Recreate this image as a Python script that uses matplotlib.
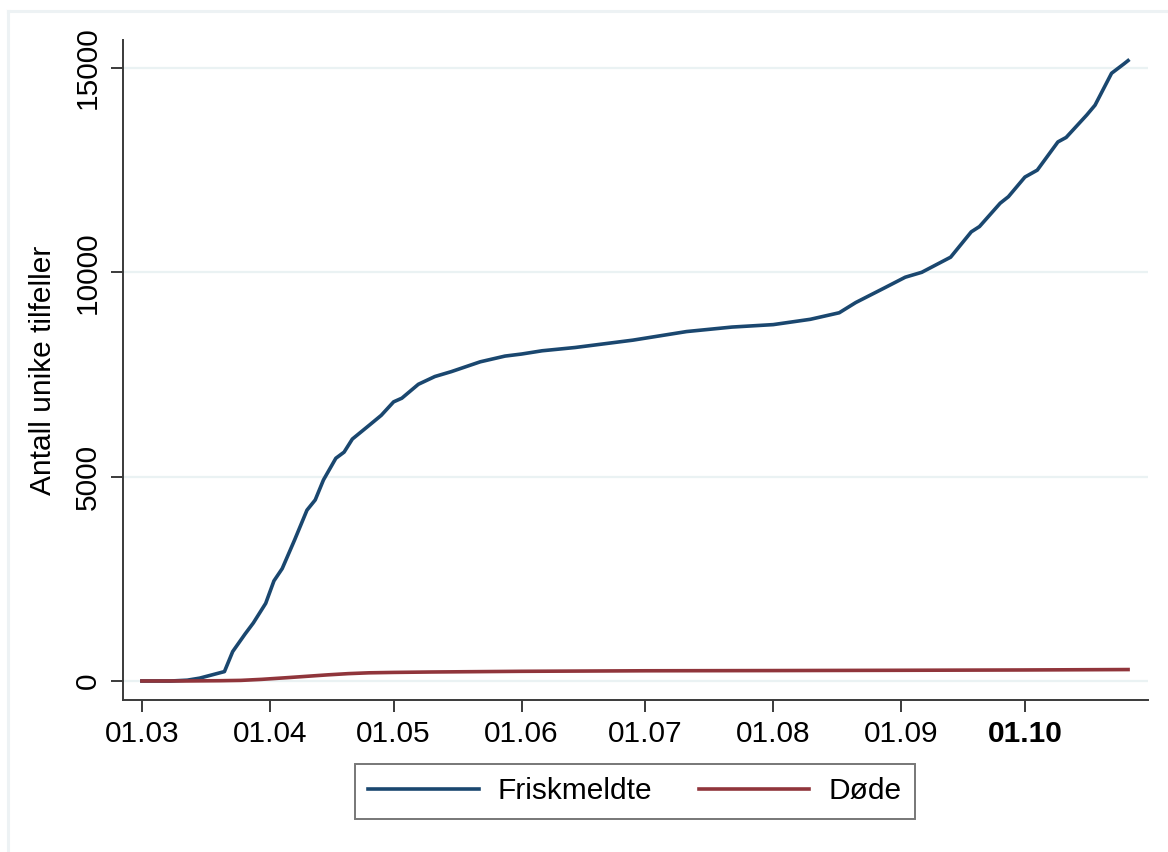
import matplotlib
matplotlib.use("Agg")
import matplotlib.pyplot as plt
import matplotlib.dates as mdates
from matplotlib.lines import Line2D
import pandas as pd

# ---- data ----
friskmeldte_dates = [
    "2020-03-01", "2020-03-08", "2020-03-12", "2020-03-15", "2020-03-18", "2020-03-21",
    "2020-03-23", "2020-03-26", "2020-03-28", "2020-03-31", "2020-04-02", "2020-04-04",
    "2020-04-07", "2020-04-10", "2020-04-12", "2020-04-14", "2020-04-17", "2020-04-19",
    "2020-04-21", "2020-04-25", "2020-04-28", "2020-05-01", "2020-05-03", "2020-05-07",
    "2020-05-11", "2020-05-15", "2020-05-22", "2020-05-28", "2020-06-01", "2020-06-06",
    "2020-06-14", "2020-06-28", "2020-07-11", "2020-07-22", "2020-08-01", "2020-08-10",
    "2020-08-17", "2020-08-21", "2020-08-28", "2020-09-02", "2020-09-06", "2020-09-13",
    "2020-09-18", "2020-09-20", "2020-09-25", "2020-09-27", "2020-10-01", "2020-10-04",
    "2020-10-09", "2020-10-11", "2020-10-16", "2020-10-18", "2020-10-22", "2020-10-25",
    "2020-10-26",
]
friskmeldte = [
    0, 0, 20, 70, 150, 230,
    720, 1150, 1420, 1900, 2450, 2750,
    3450, 4180, 4430, 4920, 5450, 5600,
    5920, 6250, 6500, 6830, 6920, 7260,
    7450, 7570, 7810, 7950, 8000, 8080,
    8160, 8340, 8550, 8660, 8720, 8850,
    9010, 9260, 9620, 9880, 10000, 10370,
    10990, 11120, 11690, 11850, 12330, 12500,
    13190, 13300, 13850, 14090, 14870, 15100,
    15180,
]

dode_dates = [
    "2020-03-01", "2020-03-12", "2020-03-20", "2020-03-25", "2020-03-30", "2020-04-05",
    "2020-04-10", "2020-04-15", "2020-04-20", "2020-04-25", "2020-05-01", "2020-05-10",
    "2020-06-01", "2020-07-01", "2020-08-01", "2020-09-01", "2020-10-01", "2020-10-26",
]
dode = [0, 1, 7, 15, 40, 80, 115, 150, 180, 200, 210, 220, 237, 250, 255, 262, 270, 280]

tick_dates = ["2020-03-01", "2020-04-01", "2020-05-01", "2020-06-01",
              "2020-07-01", "2020-08-01", "2020-09-01", "2020-10-01"]
y_ticks = [0, 5000, 10000, 15000]
series_labels = ["Friskmeldte", "Døde"]
y_label = "Antall unike tilfeller"

# ---- style ----
plt.rcParams["font.family"] = ["Liberation Sans", "DejaVu Sans"]
FS = 21.5
NAVY = "#1a476f"
MAROON = "#90353b"
GRID = "#eaf2f3"
AXC = "#3a3a3a"

fig = plt.figure(figsize=(11.68, 8.52), dpi=100)
fig.patch.set_facecolor("white")
ax = fig.add_axes([123 / 1168, 1 - 700 / 852, (1148 - 123) / 1168, (700 - 40) / 852])

fx = pd.to_datetime(friskmeldte_dates)
dx = pd.to_datetime(dode_dates)
ax.plot(fx, friskmeldte, color=NAVY, lw=2.6, label=series_labels[0], solid_joinstyle="round", zorder=3)
ax.plot(dx, dode, color=MAROON, lw=2.6, label=series_labels[1], solid_joinstyle="round", zorder=3)

ax.set_xlim(pd.Timestamp("2020-02-25 10:00"), pd.Timestamp("2020-10-30 20:00"))
ax.set_ylim(-465, 15684)

ax.set_xticks(pd.to_datetime(tick_dates))
ax.xaxis.set_major_formatter(mdates.DateFormatter("%d.%m"))
ax.set_yticks(y_ticks)
ax.set_yticklabels([str(v) for v in y_ticks], rotation=90, va="center")

ax.grid(axis="y", color=GRID, lw=1.6)
ax.set_axisbelow(True)
for s in ("top", "right"):
    ax.spines[s].set_visible(False)
for s in ("left", "bottom"):
    ax.spines[s].set_color(AXC)
    ax.spines[s].set_linewidth(1.4)

ax.tick_params(axis="both", direction="out", length=8.5, width=1.4, color=AXC,
               labelsize=FS, labelcolor="black")
ax.tick_params(axis="y", pad=7)
ax.tick_params(axis="x", pad=6)
for lbl in ax.get_xticklabels():
    if lbl.get_text() == "01.10":
        lbl.set_fontweight("bold")

ax.set_ylabel(y_label, fontsize=FS)
ax.yaxis.set_label_coords(-0.064, 0.5)

leg = ax.legend(loc="upper center", bbox_to_anchor=(0.4995, -0.097), ncol=2,
                fontsize=FS, frameon=True, fancybox=False, shadow=False,
                handlelength=3.7, handletextpad=0.65, columnspacing=1.55,
                borderpad=0.45, borderaxespad=0)
leg.get_frame().set_edgecolor("#555555")
leg.get_frame().set_linewidth(1.4)
for ln in leg.get_lines():
    ln.set_linewidth(2.6)

# faint outer graph frame (top and left edges visible)
fig.add_artist(Line2D([8 / 1168, 1.0], [1 - 11 / 852, 1 - 11 / 852],
                      transform=fig.transFigure, color="#edf2f4", lw=2.2))
fig.add_artist(Line2D([8 / 1168, 8 / 1168], [0.0, 1 - 11 / 852],
                      transform=fig.transFigure, color="#edf2f4", lw=2.2))

fig.savefig("out.png", dpi=100, facecolor="white")
